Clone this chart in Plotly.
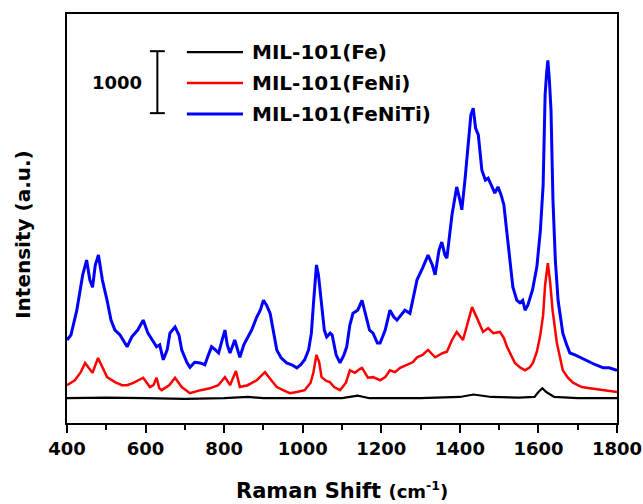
import plotly.graph_objects as go

# ---------------- data (Raman shift, intensity a.u.) ----------------
blue_x = [400, 410, 425, 440, 450, 458, 465, 472, 480, 490, 502, 512, 522, 535, 553, 565, 580, 594, 606, 618,
          628, 636, 645, 655, 662, 675, 685, 692, 705, 713, 725, 739, 751, 760, 768, 778, 786, 795, 802, 808,
          815, 827, 834, 840, 850, 857, 870, 883, 892, 900, 908, 917, 925, 934, 945, 959, 972, 985, 995, 1005,
          1015, 1022, 1028, 1035, 1040, 1048, 1055, 1061, 1070, 1075, 1085, 1095, 1105, 1112, 1120, 1128, 1140,
          1151, 1160, 1170, 1179, 1190, 1197, 1210, 1222, 1232, 1240, 1250, 1260, 1273, 1282, 1291, 1305, 1319,
          1330, 1337, 1347, 1354, 1362, 1367, 1380, 1392, 1400, 1405, 1413, 1420, 1428, 1434, 1440, 1447, 1456,
          1465, 1472, 1480, 1489, 1497, 1505, 1512, 1523, 1535, 1545, 1553, 1560, 1566, 1573, 1585, 1596, 1605,
          1612, 1617, 1621, 1624, 1628, 1632, 1637, 1643, 1650, 1662, 1672, 1680, 1693, 1706, 1720, 1731, 1745,
          1765, 1780, 1800]
blue_y = [1340, 1420, 1820, 2390, 2630, 2310, 2190, 2550, 2710, 2310, 1980, 1660, 1500, 1420, 1230, 1390, 1500,
          1660, 1450, 1340, 1230, 1260, 1020, 1180, 1450, 1550, 1420, 1180, 980, 900, 980, 970, 940, 1100, 1230,
          1180, 1130, 1340, 1500, 1260, 1130, 1340, 1180, 1060, 1260, 1340, 1500, 1710, 1820, 1980, 1900, 1770,
          1500, 1180, 1050, 970, 940, 890, 940, 1020, 1180, 1450, 1980, 2550, 2390, 1870, 1500, 1390, 1450, 1420,
          1100, 970, 1100, 1230, 1580, 1770, 1820, 1980, 1740, 1500, 1450, 1290, 1290, 1500, 1820, 1710, 1660,
          1740, 1820, 1770, 2060, 2310, 2500, 2710, 2550, 2390, 2790, 2920, 2710, 2660, 3360, 3810, 3600, 3440,
          3920, 4400, 4970, 5080, 4760, 4650, 4080, 3920, 3950, 3840, 3710, 3810, 3680, 3520, 2840, 2190, 1980,
          1940, 1980, 1820, 1900, 2150, 2520, 3110, 3840, 5290, 5660, 5850, 5520, 5050, 3600, 2630, 1980, 1450,
          1260, 1130, 1100, 1060, 1020, 980, 940, 890, 890, 850]

red_x = [400, 420, 435, 446, 455, 465, 479, 490, 502, 522, 540, 553, 570, 594, 611, 620, 628, 635, 641, 660,
         675, 692, 713, 740, 764, 785, 802, 815, 830, 840, 860, 883, 904, 920, 934, 950, 967, 985, 1005, 1020,
         1027, 1035, 1042, 1048, 1060, 1069, 1080, 1095, 1110, 1120, 1133, 1145, 1151, 1166, 1179, 1197, 1210,
         1222, 1235, 1248, 1265, 1280, 1291, 1305, 1319, 1337, 1357, 1367, 1380, 1392, 1408, 1420, 1431, 1446,
         1459, 1472, 1485, 1502, 1512, 1520, 1540, 1555, 1566, 1578, 1586, 1596, 1604, 1612, 1617, 1624, 1630,
         1636, 1647, 1662, 1675, 1688, 1710, 1731, 1765, 1800]
red_y = [610, 690, 820, 970, 890, 810, 1050, 890, 740, 660, 610, 610, 650, 730, 580, 610, 730, 560, 530, 610,
         730, 580, 480, 530, 560, 610, 740, 610, 840, 580, 610, 690, 820, 690, 580, 530, 480, 500, 530, 650,
         810, 1100, 980, 740, 680, 660, 580, 530, 650, 850, 810, 870, 890, 730, 740, 690, 740, 850, 820, 890,
         940, 980, 1060, 1100, 1180, 1060, 1130, 1150, 1340, 1470, 1340, 1630, 1870, 1660, 1470, 1530, 1450,
         1470, 1370, 1230, 970, 890, 850, 900, 970, 1150, 1390, 1740, 2230, 2580, 2260, 1820, 1290, 850, 730,
         650, 580, 560, 530, 500]

black_x = [400, 500, 600, 700, 800, 860, 900, 1000, 1100, 1140, 1170, 1300, 1400, 1435, 1480, 1550, 1590,
           1600, 1610, 1620, 1640, 1700, 1800]
black_y = [400, 410, 400, 390, 400, 420, 400, 395, 400, 440, 400, 400, 420, 460, 420, 410, 420, 500, 560,
           500, 420, 400, 400]

series_names = ["MIL-101(Fe)", "MIL-101(FeNi)", "MIL-101(FeNiTi)"]
series_colors = ["#000000", "#ff0000", "#0000ff"]
series_widths = [2.2, 2.5, 3]

x_range = [400, 1800]
y_range = [0, 6600]
x_ticks = [400, 600, 800, 1000, 1200, 1400, 1600, 1800]

scale_bar_x = 630
scale_bar_y = [5000, 6000]
scale_bar_label = "1000"

FONT = "DejaVu Sans"

fig = go.Figure()
for xs, ys, name, col, w in [(black_x, black_y, series_names[0], series_colors[0], series_widths[0]),
                              (red_x, red_y, series_names[1], series_colors[1], series_widths[1]),
                              (blue_x, blue_y, series_names[2], series_colors[2], series_widths[2])]:
    fig.add_trace(go.Scatter(x=xs, y=ys, mode="lines", name=name,
                             line=dict(color=col, width=w), showlegend=False))

# manual legend (long line samples as in the reference)
leg_rows = [0.907, 0.831, 0.7555]
for name, col, w, yy in zip(series_names, series_colors, series_widths, leg_rows):
    fig.add_shape(type="line", xref="paper", yref="paper", x0=0.218, x1=0.32, y0=yy, y1=yy,
                  line=dict(color=col, width=w))
    fig.add_annotation(xref="paper", yref="paper", x=0.3327, y=yy, text="<b>%s</b>" % name,
                       showarrow=False, xanchor="left", yanchor="middle",
                       font=dict(family=FONT, size=20, color="#000000"))

# scale bar
cap = 19
fig.add_shape(type="line", x0=scale_bar_x, x1=scale_bar_x, y0=scale_bar_y[0], y1=scale_bar_y[1],
              line=dict(color="black", width=2))
for yy in scale_bar_y:
    fig.add_shape(type="line", x0=scale_bar_x - cap, x1=scale_bar_x + cap, y0=yy, y1=yy,
                  line=dict(color="black", width=2))
fig.add_annotation(x=scale_bar_x - 35, y=sum(scale_bar_y) / 2, text="<b>%s</b>" % scale_bar_label,
                   showarrow=False, xanchor="right", yanchor="middle",
                   font=dict(family=FONT, size=18, color="#000000"))

# axis titles
fig.add_annotation(xref="paper", yref="paper", x=0.5, y=-0.165, yanchor="middle", xanchor="center",
                   showarrow=False,
                   text="<b>Raman Shift </b><span style='font-size:18px'><b>(cm<sup>-1</sup>)</b></span>",
                   font=dict(family=FONT, size=21, color="#000000"))
fig.add_annotation(xref="paper", yref="paper", x=-0.08, y=0.46, textangle=-90, showarrow=False,
                   xanchor="center", yanchor="middle", text="<b>Intensity (a.u.)</b>",
                   font=dict(family=FONT, size=20, color="#000000"))

fig.update_layout(
    width=643, height=504,
    margin=dict(l=67, r=26, t=14, b=81),
    paper_bgcolor="white", plot_bgcolor="white",
    showlegend=False,
    xaxis=dict(range=x_range, tickvals=x_ticks, ticktext=["<b>%d</b>" % t for t in x_ticks],
               automargin=False,
               ticks="outside", ticklen=8, tickwidth=2, tickcolor="black",
               minor=dict(dtick=100, tick0=400, ticks="outside", ticklen=5, tickwidth=2, tickcolor="black"),
               showline=True, linecolor="black", linewidth=2, mirror=True,
               showgrid=False, zeroline=False,
               tickfont=dict(family=FONT, size=18, color="black")),
    yaxis=dict(range=y_range, showticklabels=False, ticks="", automargin=False,
               showline=True, linecolor="black", linewidth=2, mirror=True,
               showgrid=False, zeroline=False),
)

fig.write_html("out.html")
